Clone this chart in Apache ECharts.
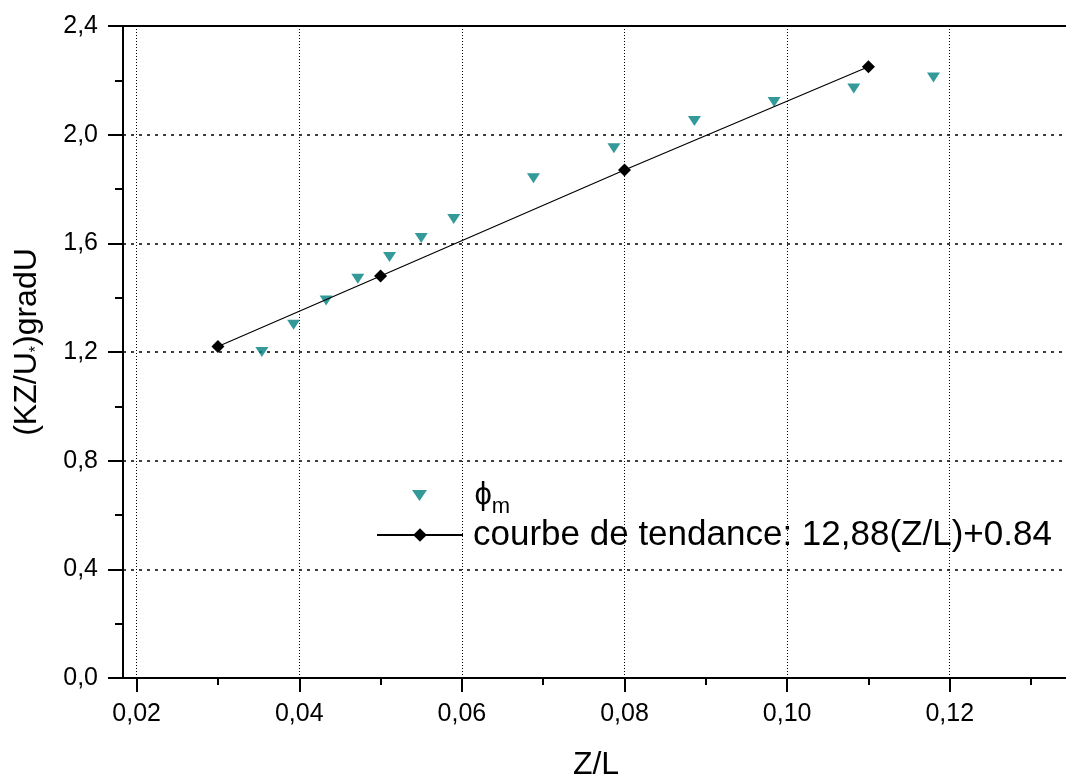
<!DOCTYPE html>
<html>
<head>
<meta charset="utf-8">
<script src="https://cdn.jsdelivr.net/npm/echarts@6/dist/echarts.min.js"></script>
<style>
  html, body { margin: 0; padding: 0; background: #fff; }
  #chart { width: 1066px; height: 780px; }
</style>
</head>
<body>
<div id="chart"></div>
<script>
// valeurs mesurées (phi_m) et points de la courbe de tendance
const phiX = [0.0354, 0.0393, 0.0433, 0.0472, 0.0511, 0.0550, 0.0590, 0.0688, 0.0787, 0.0886, 0.0984, 0.1082, 0.1180];
const phiY = [1.20, 1.30, 1.39, 1.47, 1.55, 1.62, 1.69, 1.84, 1.95, 2.05, 2.12, 2.17, 2.21];
const trendX = [0.03, 0.05, 0.08, 0.11];
const trendY = [1.22, 1.48, 1.87, 2.25];

const xMajorTicks = [0.02, 0.04, 0.06, 0.08, 0.10, 0.12];
const xMinorTicks = [0.03, 0.05, 0.07, 0.09, 0.11, 0.13];

const FONT = 'Liberation Sans, Arial, sans-serif';
const TEAL = '#008080';

const phiData = phiX.map((x, i) => [x, phiY[i]]);
const trendData = trendX.map((x, i) => [x, trendY[i]]);

const commaFmt = d => v => v.toFixed(d).replace('.', ',');

const chart = echarts.init(document.getElementById('chart'));

const option = {
    backgroundColor: '#fff',
    animation: false,
    textStyle: { fontFamily: FONT, color: '#000' },
    grid: {
        left: 123, right: -3, top: 26, bottom: 102,
        containLabel: false,
        outerBoundsMode: 'none',
        show: true, borderColor: '#000', borderWidth: 2
    },
    xAxis: [
        {
            type: 'value',
            min: 0.01832,
            max: 0.13467,
            position: 'bottom',
            name: 'Z/L',
            nameLocation: 'middle',
            nameGap: 71,
            nameTextStyle: { fontSize: 32, color: '#000', fontFamily: FONT },
            axisLine: { onZero: false, lineStyle: { color: '#000', width: 2 } },
            axisTick: { customValues: xMajorTicks, length: 14, lineStyle: { color: '#000', width: 2 } },
            axisLabel: {
                customValues: xMajorTicks, formatter: commaFmt(2),
                fontSize: 25, color: '#000', margin: 24, fontFamily: FONT
            },
            splitLine: { show: true, lineStyle: { color: '#000', width: 1, type: [1, 2] } }
        },
        {
            // petites graduations
            type: 'value',
            min: 0.01832,
            max: 0.13467,
            position: 'bottom',
            axisLine: { show: false },
            axisTick: { customValues: xMinorTicks, length: 7, lineStyle: { color: '#000', width: 2 } },
            axisLabel: { show: false },
            splitLine: { show: false }
        }
    ],
    yAxis: {
        type: 'value',
        min: 0,
        max: 2.4,
        interval: 0.4,
        name: '{a|(KZ/U}{s|*}{a|)gradU}',
        nameLocation: 'middle',
        nameGap: 78,
        nameTextStyle: {
            color: '#000', fontFamily: FONT, fontSize: 32,
            padding: [0, 0, 0, 20],
            rich: {
                a: { fontSize: 32, lineHeight: 36, fontFamily: FONT, color: '#000' },
                s: { fontSize: 16, lineHeight: 18, verticalAlign: 'bottom', fontFamily: FONT, color: '#000' }
            }
        },
        axisLine: { onZero: false, lineStyle: { color: '#000', width: 2 } },
        axisTick: { length: 15, lineStyle: { color: '#000', width: 2 } },
        minorTick: { show: true, splitNumber: 2, length: 8, lineStyle: { color: '#000', width: 2 } },
        axisLabel: { formatter: commaFmt(1), fontSize: 25, color: '#000', margin: 25, fontFamily: FONT },
        splitLine: { show: true, lineStyle: { color: '#000', width: 1.5, type: [3, 5] } }
    },
    legend: [
        {
            data: ['phi'],
            left: 412, top: 480,
            padding: 0,
            itemWidth: 86, itemHeight: 11,
            selectedMode: false,
            formatter: () => '{a|ϕ}{s|m}',
            textStyle: {
                padding: [0, 0, 0, 7],
                rich: {
                    a: { fontSize: 31, lineHeight: 44, fontFamily: FONT, color: '#000' },
                    s: { fontSize: 22, lineHeight: 22, verticalAlign: 'bottom', fontFamily: FONT, color: '#000' }
                }
            }
        },
        {
            data: ['trend'],
            left: 376, top: 517,
            padding: 0,
            itemWidth: 86, itemHeight: 17,
            selectedMode: false,
            formatter: () => 'courbe de tendance: 12,88(Z/L)+0.84',
            textStyle: { fontSize: 35, lineHeight: 36, color: '#000', fontFamily: FONT, padding: [0, 0, 0, 5] }
        }
    ],
    series: [
        {
            name: 'phi',
            type: 'scatter',
            data: phiData,
            symbol: 'path://M0,0L15,0L7.5,11Z',
            symbolSize: [13, 10],
            itemStyle: { color: TEAL },
            z: 3
        },
        {
            name: 'trend',
            type: 'line',
            data: trendData,
            symbol: 'diamond',
            symbolSize: 13,
            showSymbol: true,
            itemStyle: { color: '#000' },
            lineStyle: { color: '#000', width: 1.2 },
            z: 4
        }
    ]
};

chart.setOption(option);
</script>
</body>
</html>
